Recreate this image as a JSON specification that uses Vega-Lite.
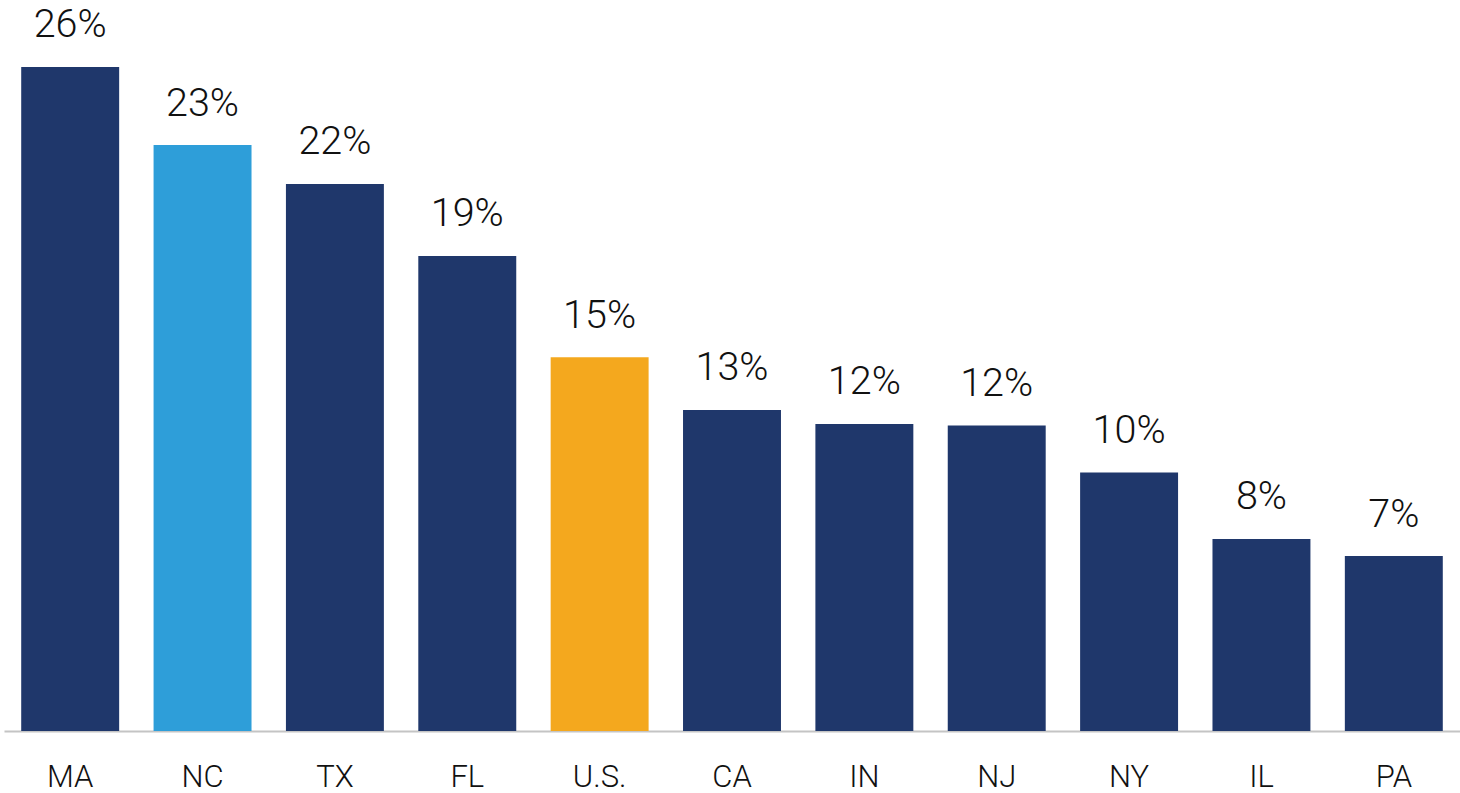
{
  "$schema": "https://vega.github.io/schema/vega-lite/v6.json",
  "width": 1456,
  "height": 731,
  "autosize": {"type": "none"},
  "padding": {"left": 4, "top": 0, "right": 0, "bottom": 62},
  "background": "white",
  "config": {"view": {"stroke": null}},
  "data": {
    "values": [
      {"state": "MA", "value": 26.0, "label": "26%", "group": "state"},
      {"state": "NC", "value": 22.94, "label": "23%", "group": "nc"},
      {"state": "TX", "value": 21.42, "label": "22%", "group": "state"},
      {"state": "FL", "value": 18.6, "label": "19%", "group": "state"},
      {"state": "U.S.", "value": 14.63, "label": "15%", "group": "us"},
      {"state": "CA", "value": 12.57, "label": "13%", "group": "state"},
      {"state": "IN", "value": 12.02, "label": "12%", "group": "state"},
      {"state": "NJ", "value": 11.96, "label": "12%", "group": "state"},
      {"state": "NY", "value": 10.12, "label": "10%", "group": "state"},
      {"state": "IL", "value": 7.52, "label": "8%", "group": "state"},
      {"state": "PA", "value": 6.85, "label": "7%", "group": "state"}
    ]
  },
  "encoding": {
    "x": {
      "field": "state",
      "type": "nominal",
      "sort": null,
      "scale": {"paddingInner": 0.26, "paddingOuter": 0.13},
      "axis": {
        "title": null,
        "labelAngle": 0,
        "ticks": false,
        "domain": true,
        "domainColor": "#c4c4c4",
        "domainWidth": 2,
        "labelFont": "Roboto",
        "labelFontWeight": 300,
        "labelFontSize": 31,
        "labelColor": "#111111",
        "labelBaseline": "alphabetic",
        "labelPadding": 55
      }
    },
    "y": {
      "field": "value",
      "type": "quantitative",
      "scale": {"domain": [0, 28.62], "nice": false, "zero": true},
      "axis": null
    }
  },
  "layer": [
    {
      "mark": {"type": "bar"},
      "encoding": {
        "color": {
          "field": "group",
          "type": "nominal",
          "scale": {"domain": ["state", "nc", "us"], "range": ["#1f376b", "#2e9ed9", "#f4a81e"]},
          "legend": null
        }
      }
    },
    {
      "mark": {
        "type": "text",
        "baseline": "alphabetic",
        "dy": -29.5,
        "font": "Roboto",
        "fontWeight": 300,
        "fontSize": 39.5,
        "color": "#111111"
      },
      "encoding": {"text": {"field": "label"}}
    }
  ]
}
